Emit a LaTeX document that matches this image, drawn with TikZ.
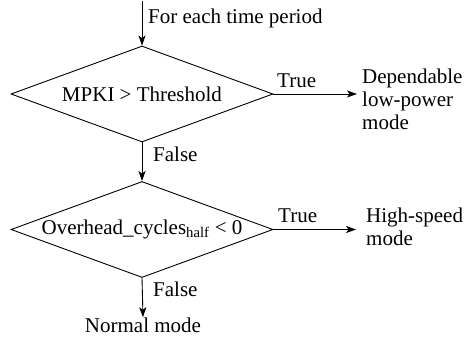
\documentclass[tikz,border=0pt]{standalone}
\usepackage{fontspec}
\setmainfont{Liberation Serif}
\usetikzlibrary{shapes.geometric,arrows.meta}
\begin{document}
\begin{tikzpicture}[x=1pt,y=-1pt,
  every node/.style={font=\fontsize{21}{23}\selectfont, inner sep=0pt},
  decision/.style={shape=diamond, draw, line width=0.9pt, aspect=2.73, minimum width=262pt, minimum height=96pt, inner sep=0pt},
  lbl/.style={anchor=base west, align=left},
  outtext/.style={anchor=west, align=left},
  flow/.style={line width=0.9pt, -{Stealth[length=10pt,width=7pt,inset=2.5pt]}}]
\useasboundingbox (0,0) rectangle (468,337);
\coordinate (start) at (142,1);
\node[decision] (d1) at (142,94) {MPKI > Threshold};
\node[decision] (d2) at (142,229.5) {Overhead\_cycles\textsubscript{half} < 0};
\node[lbl] (t0) at (148,24) {For each time period};
\node[lbl] (t1) at (277,87) {True};
\node[lbl] (f1) at (153,161) {False};
\node[lbl] (t2) at (278,222) {True};
\node[lbl] (f2) at (153,296) {False};
\node[outtext] (lp) at (362,99) {Dependable\\low-power\\mode};
\node[outtext] (hs) at (366,227) {High-speed\\mode};
\node[anchor=base] (nm) at (143,332) {Normal mode};
\draw[flow] (start) -- (d1.north);
\draw[flow] (d1.east) -- ([xshift=-5pt]d1.east -| lp.west);
\draw[flow] (d1.south) -- (d2.north);
\draw[flow] (d2.east) -- ([xshift=-10pt]d2.east -| hs.west);
\draw[flow] (d2.south) -- (nm.north);
\end{tikzpicture}
\end{document}
